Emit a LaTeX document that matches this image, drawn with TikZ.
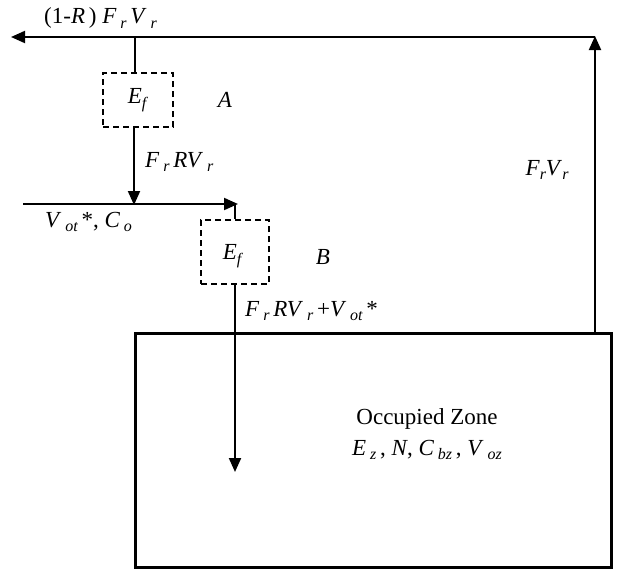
\documentclass[tikz,border=0pt]{standalone}
\usepackage{fontspec}
\setmainfont{Liberation Serif}
\usetikzlibrary{arrows.meta}
\newcommand{\lowsub}[1]{\raisebox{-0.45ex}{\fontsize{16}{16}\selectfont\itshape #1}}
\newcommand{\iv}[1]{\textit{#1}}
\begin{document}
\begin{tikzpicture}[x=1pt,y=-1pt,
  flow/.style={line width=2pt,-{Triangle[length=14pt,width=12pt]}},
  plain/.style={line width=2pt},
  filterbox/.style={draw,line width=1.5pt,dash pattern=on 6pt off 4pt,minimum width=70pt,minimum height=54pt,inner sep=0pt},
  lbl/.style={font=\fontsize{23}{25}\selectfont,inner sep=0pt},
  zone/.style={draw,line width=3.4pt,inner sep=0pt}]
\useasboundingbox (0,0) rectangle (642,571);
% nodes
\node[filterbox] (A) at (138,100) {};
\node[lbl] at (137,100) {\iv{E}\lowsub{f}};
\node[lbl] (Alab) at (225,100) {\iv{A}};
\node[filterbox,minimum width=68pt,minimum height=64pt] (B) at (235,252) {};
\node[lbl] at (232,256) {\iv{E}\lowsub{f}};
\node[lbl] (Blab) at (323,257) {\iv{B}};
\node[zone,minimum width=476pt,minimum height=234pt] (Z) at (373.5,450.5) {};
\node[lbl] (z1) at (427,419) {Occupied Zone};
\node[lbl] (z2) at (427,450) {\iv{E}\,\lowsub{z}\,, \iv{N}, \iv{C}\,\lowsub{bz}\,, \iv{V}\,\lowsub{oz}};
% coordinates
\coordinate (rtop) at (595,36);
\coordinate (rbot) at (595,333);
\coordinate (lout) at (11,37);
\coordinate (ajoin) at (135,37);
\coordinate (mjoin) at (134,205);
\coordinate (min) at (23,204);
\coordinate (mend) at (238,204);
\coordinate (bjoin) at (235,204);
\coordinate (bdown) at (235,472);
% connectors
\draw[flow] (rbot) -- (rtop);
\draw[flow] (595,37) -- (lout);
\draw[plain] (ajoin) -- (A.north -| ajoin);
\draw[flow] (A.south -| mjoin) -- (mjoin);
\draw[flow] (min) -- (mend);
\draw[plain] (bjoin) -- (B.north -| bjoin);
\draw[flow] (B.south -| bdown) -- (bdown);
% labels
\node[lbl,anchor=west] at (44,18) {(1-\iv{R}\,) \iv{F}\,\lowsub{r}\,\iv{V}\,\lowsub{r}};
\node[lbl,anchor=west] at (145,162) {\iv{F}\,\lowsub{r}\,\iv{RV}\,\lowsub{r}};
\node[lbl,anchor=west] at (45,222) {\iv{V}\,\lowsub{ot}\,*, \iv{C}\,\lowsub{o}};
\node[lbl,anchor=west] at (245,311) {\iv{F}\,\lowsub{r}\,\iv{RV}\,\lowsub{r}\,+\iv{V}\,\lowsub{ot}\,*};
\node[lbl] at (547,170) {\iv{F}\lowsub{r}\iv{V}\lowsub{r}};
\end{tikzpicture}
\end{document}
